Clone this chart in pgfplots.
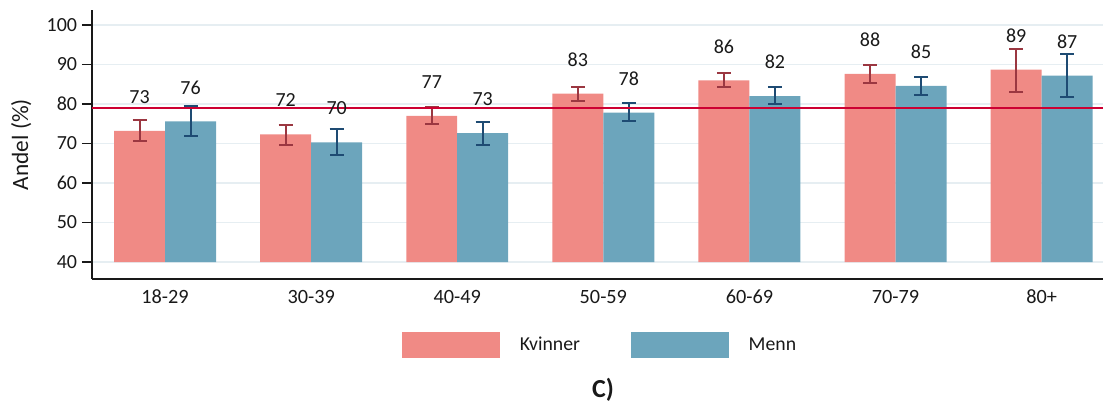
\documentclass[border=0pt]{standalone}
\usepackage{fontspec}
\setmainfont{Carlito}
\usepackage{pgfplots}
\usepackage{pgfplotstable}
\pgfplotsset{compat=1.18}
\definecolor{kfill}{RGB}{240,138,133}
\definecolor{mfill}{RGB}{108,165,188}
\definecolor{kerr}{RGB}{155,55,65}
\definecolor{merr}{RGB}{30,75,115}
\definecolor{refline}{RGB}{205,0,50}
\definecolor{gridc}{RGB}{230,238,242}
\definecolor{txt}{RGB}{25,25,25}

% x: category index, y: share (%), ep/em: upper/lower CI distance
\pgfplotstableread{
x y ep em
0 73.2 2.7 2.6
1 72.3 2.5 2.6
2 77.0 2.3 2.1
3 82.6 1.8 1.8
4 86.0 1.9 1.8
5 87.6 2.3 2.2
6 88.7 5.2 5.7
}\kvinner
\pgfplotstableread{
x y ep em
0 75.6 3.8 3.6
1 70.3 3.4 3.2
2 72.6 2.8 3.0
3 77.8 2.5 2.2
4 82.0 2.2 2.1
5 84.6 2.2 2.4
6 87.2 5.5 5.3
}\menn

\begin{document}
\begin{tikzpicture}
\useasboundingbox (-69pt,-97.5pt) rectangle (758.25pt,209.25pt);
\begin{axis}[
  at={(0pt,0pt)}, anchor=south west,
  scale only axis, width=758.25pt, height=201.75pt,
  xmin=-0.5, xmax=6.42, ymin=-4.3, ymax=63.8,
  y filter/.expression={y-40},
  ybar, bar width=0.349,
  axis lines*=left,
  axis line style={line width=1.1pt, txt},
  xtick={0,...,6},
  xticklabels={18-29,30-39,40-49,50-59,60-69,70-79,80+},
  ytick={0,10,...,60},
  yticklabels={40,50,60,70,80,90,100},
  ymajorgrids,
  grid style={gridc, line width=1.3pt},
  tick align=outside,
  major tick length=7.5pt,
  ytick style={line width=1pt, txt},
  xtick style={draw=none},
  yticklabel style={font=\fontsize{15}{18}\selectfont, text=txt, anchor=east, inner sep=0pt, xshift=-3.5pt},
  xticklabel style={font=\fontsize{15.2}{18}\selectfont, text=txt, anchor=north, inner sep=0pt, yshift=-0.5pt},
  ylabel={Andel (\%)},
  every axis y label/.style={at={(rel axis cs:0,0.5)}, xshift=-53pt, rotate=90, anchor=center, font=\fontsize{17.5}{20}\selectfont, text=txt},
  legend columns=2,
  legend style={at={(0.5015,-0.2454)}, anchor=center, draw=none, fill=none,
    font=\fontsize{14.8}{17}\selectfont, text=txt, nodes={inner sep=0pt},
    /tikz/every odd column/.append style={column sep=15pt},
    /tikz/every even column/.append style={column sep=38pt}},
]
\addplot[fill=kfill, draw=none, bar shift=-0.1745,
  legend image code/.code={\fill[kfill] (0pt,-9.75pt) rectangle (73.5pt,9.75pt);},
  nodes near coords={\pgfmathprintnumber[fixed,precision=0,assume math mode=true]{\pgfplotspointmeta}},
  point meta=rawy,
  every node near coord/.append style={anchor=center, yshift=25.5pt, font=\fontsize{15}{18}\selectfont, text=txt},
  error bars/.cd, y dir=both, y explicit,
  error bar style={kerr, line width=1.5pt},
  error mark options={kerr, rotate=90, mark size=5.25pt, line width=1.5pt}]
  table[x=x, y=y, y error plus=ep, y error minus=em] {\kvinner};
\addlegendentry{Kvinner}
\addplot[fill=mfill, draw=none, bar shift=0.1745,
  legend image code/.code={\fill[mfill] (0pt,-9.75pt) rectangle (73.5pt,9.75pt);},
  nodes near coords={\pgfmathprintnumber[fixed,precision=0,assume math mode=true]{\pgfplotspointmeta}},
  point meta=rawy,
  every node near coord/.append style={anchor=center, yshift=25.5pt, font=\fontsize{15}{18}\selectfont, text=txt},
  error bars/.cd, y dir=both, y explicit,
  error bar style={merr, line width=1.5pt},
  error mark options={merr, rotate=90, mark size=5.25pt, line width=1.5pt}]
  table[x=x, y=y, y error plus=ep, y error minus=em] {\menn};
\addlegendentry{Menn}
\addplot[sharp plot, refline, line width=1.6pt, forget plot] coordinates {(-0.5,79) (6.42,79)};
\end{axis}
\node[font=\bfseries\fontsize{19.5}{22}\selectfont, text=txt] at (383.25pt,-83.25pt) {C)};
\end{tikzpicture}
\end{document}
